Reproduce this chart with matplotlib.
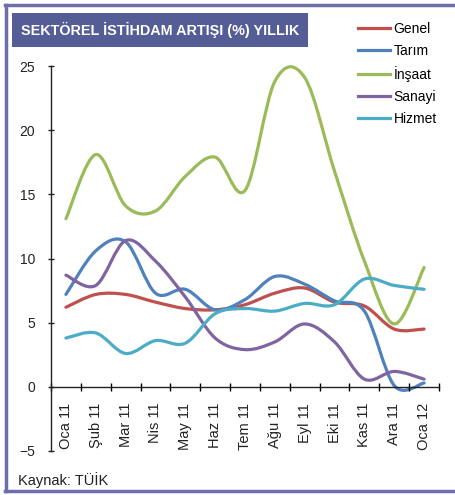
import numpy as np
import matplotlib
matplotlib.use("Agg")
import matplotlib.pyplot as plt
from matplotlib.path import Path
from matplotlib.patches import PathPatch, Rectangle
from matplotlib.lines import Line2D

plt.rcParams['font.family'] = ['Liberation Sans', 'DejaVu Sans']

months = ["Oca 11", "Şub 11", "Mar 11", "Nis 11", "May 11", "Haz 11", "Tem 11",
          "Ağu 11", "Eyl 11", "Eki 11", "Kas 11", "Ara 11", "Oca 12"]

genel = [6.2, 7.2, 7.2, 6.6, 6.1, 6.0, 6.4, 7.3, 7.7, 6.6, 6.3, 4.5, 4.5]
tarim = [7.2, 10.6, 11.3, 7.3, 7.6, 6.0, 6.8, 8.6, 8.0, 6.7, 5.9, 0.1, 0.3]
insaat = [13.1, 18.1, 14.1, 13.7, 16.4, 17.9, 15.3, 23.8, 24.1, 16.8, 9.8, 4.9, 9.3]
sanayi = [8.7, 7.9, 11.4, 9.8, 7.0, 3.8, 2.9, 3.5, 4.9, 3.5, 0.6, 1.2, 0.6]
hizmet = [3.8, 4.2, 2.6, 3.6, 3.4, 5.7, 6.1, 5.9, 6.5, 6.4, 8.4, 7.9, 7.6]

series = [("Genel", genel, "#C0504D"),
          ("Tarım", tarim, "#4F81BD"),
          ("İnşaat", insaat, "#9BBB59"),
          ("Sanayi", sanayi, "#8064A2"),
          ("Hizmet", hizmet, "#4BACC6")]


def smooth_path(xs, ys):
    # excel-like smoothed line: cubic bezier through each point
    p = np.column_stack([xs, ys]).astype(float)
    n = len(p)
    verts = [p[0]]
    codes = [Path.MOVETO]
    for i in range(n - 1):
        p0 = p[i - 1] if i > 0 else p[i]
        p3 = p[i + 2] if i + 2 < n else p[i + 1]
        c1 = p[i] + (p[i + 1] - p0) / 6.0
        c2 = p[i + 1] - (p3 - p[i]) / 6.0
        verts += [c1, c2, p[i + 1]]
        codes += [Path.CURVE4] * 3
    return Path(verts, codes)


fig = plt.figure(figsize=(4.56, 4.95), dpi=100)
ax = fig.add_axes([51 / 456, 1 - 451 / 495, 388 / 456, 385 / 495])

x = np.arange(len(months))
for name, vals, col in series:
    ax.add_patch(PathPatch(smooth_path(x, vals), facecolor="none", edgecolor=col,
                           lw=2.3, capstyle="round", joinstyle="round",
                           clip_on=False))

ax.set_xlim(-0.5, 12.5)
ax.set_ylim(-5, 25)
ax.spines['top'].set_visible(False)
ax.spines['right'].set_visible(False)
ax.spines['bottom'].set_position(('data', 0))
for s in ('left', 'bottom'):
    ax.spines[s].set_linewidth(1.0)
    ax.spines[s].set_color("#222222")

ax.set_yticks(np.arange(-5, 26, 5))
ax.tick_params(axis='y', direction='inout', length=5, width=1, pad=9,
               labelsize=10, colors="#222222")
ax.set_xticks(np.arange(-0.5, 13, 1))
ax.set_xticklabels([])
ax.set_xticks(x, minor=True)
ax.set_xticklabels(months, minor=True, rotation=90)
ax.tick_params(axis='x', which='major', direction='inout', length=6, width=1)
ax.tick_params(axis='x', which='minor', length=0, pad=11.5, labelsize=10.5,
               colors="#222222")

handles = [Line2D([], [], color=c, lw=2.3) for _, _, c in series]
fig.legend(handles, [n for n, _, _ in series], loc='upper left',
           bbox_to_anchor=(358 / 456, 1 - 22 / 495), frameon=False,
           fontsize=10, handlelength=2.3, handletextpad=0.25,
           labelspacing=0.58, borderpad=0, borderaxespad=0)

# title box
fig.patches.append(Rectangle((12 / 456, 1 - 47 / 495), 296 / 456, 34 / 495,
                             transform=fig.transFigure, facecolor="#555D97",
                             edgecolor="none"))
fig.text(21 / 456, 1 - 30 / 495, "SEKTÖREL İSTİHDAM ARTIŞI (%) YILLIK",
         color="white", fontsize=10.4, fontweight="bold", va="center", ha="left")

fig.text(18 / 456, 1 - 480 / 495, "Kaynak: TÜİK", fontsize=10.5, va="center",
         ha="left", color="#222222")

# outer frame
bc = "#6E6FA8"
fig.lines.append(Line2D([6.5 / 456, 6.5 / 456], [1 - 5 / 495, 1 - 491 / 495],
                        transform=fig.transFigure, color=bc, lw=2.5))
fig.lines.append(Line2D([5 / 456, 1], [1 - 5 / 495, 1 - 5 / 495],
                        transform=fig.transFigure, color=bc, lw=2.5))
fig.lines.append(Line2D([5 / 456, 1], [1 - 491 / 495, 1 - 491 / 495],
                        transform=fig.transFigure, color=bc, lw=2.5))

fig.savefig("out.png", dpi=100)
